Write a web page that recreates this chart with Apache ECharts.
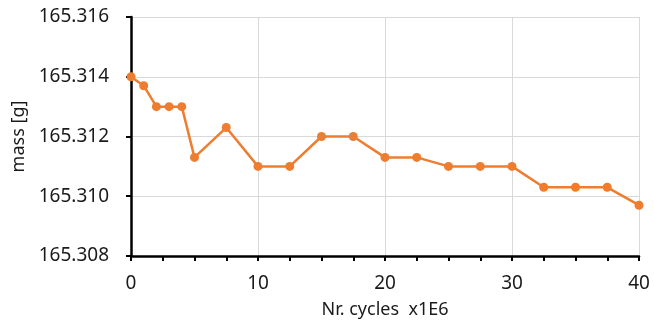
<!DOCTYPE html>
<html><head><meta charset="utf-8">
<script src="https://cdn.jsdelivr.net/npm/echarts@6/dist/echarts.min.js"></script>
<style>html,body{margin:0;padding:0;background:#fff}#c{width:654px;height:330px}</style>
</head><body><div id="c"></div>
<script>
const cycles = [0, 1, 2, 3, 4, 5, 7.5, 10, 12.5, 15, 17.5, 20, 22.5, 25, 27.5, 30, 32.5, 35, 37.5, 40];
const mass = [165.314, 165.3137, 165.313, 165.313, 165.313, 165.3113, 165.3123, 165.311, 165.311, 165.312, 165.312, 165.3113, 165.3113, 165.311, 165.311, 165.311, 165.3103, 165.3103, 165.3103, 165.3097];
const xTitle = 'Nr. cycles  x1E6';
const yTitle = 'mass [g]';
const font = '"Noto Sans", sans-serif';
const chart = echarts.init(document.getElementById('c'));
chart.setOption({
  animation: false,
  grid: {left: 131, right: 15, top: 17, bottom: 74, outerBoundsMode: 'none', containLabel: false},
  xAxis: {
    type: 'value', min: 0, max: 40, interval: 10,
    name: xTitle, nameLocation: 'middle', nameGap: 45,
    nameTextStyle: {fontFamily: font, fontSize: 18, color: '#1a1a1a'},
    axisLine: {show: true, onZero: false, lineStyle: {color: '#000', width: 2.5}},
    axisTick: {show: true, length: 5, lineStyle: {color: '#000', width: 2}},
    minorTick: {show: true, splitNumber: 4, length: 5, lineStyle: {color: '#000', width: 2}},
    axisLabel: {fontFamily: font, fontSize: 19, color: '#1a1a1a', margin: 18},
    splitLine: {show: true, lineStyle: {color: '#d9d9d9', width: 1}}
  },
  yAxis: {
    type: 'value', min: 165.308, max: 165.316, interval: 0.002,
    name: yTitle, nameLocation: 'middle', nameGap: 101, nameRotate: 90,
    nameTextStyle: {fontFamily: font, fontSize: 18, color: '#1a1a1a'},
    axisLine: {show: true, lineStyle: {color: '#000', width: 2.5}},
    axisTick: {show: true, length: 5, lineStyle: {color: '#000', width: 2}},
    axisLabel: {fontFamily: font, fontSize: 19, color: '#1a1a1a', margin: 22, formatter: v => v.toFixed(3)},
    splitLine: {show: true, lineStyle: {color: '#d9d9d9', width: 1}}
  },
  series: [{
    type: 'line',
    data: cycles.map((c, i) => [c, mass[i]]),
    symbol: 'circle', symbolSize: 9,
    lineStyle: {color: '#ED7D31', width: 2.5},
    itemStyle: {color: '#ED7D31'}
  }]
});
</script></body></html>
